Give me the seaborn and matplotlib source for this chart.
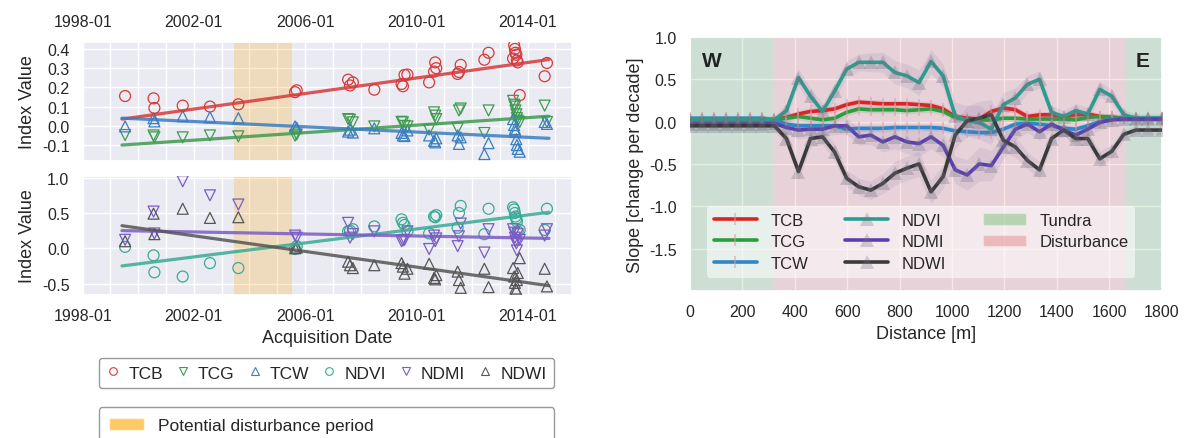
import numpy as np
import pandas as pd
import matplotlib
matplotlib.use("Agg")
import matplotlib.pyplot as plt
import matplotlib.dates as mdates
import seaborn as sns
from matplotlib.patches import Patch
from matplotlib.lines import Line2D

# ---------------- left panels: time series ----------------
acq_dates = ["1999-07-12", "2000-07-20", "2000-07-31", "2001-08-07", "2002-07-31",
             "2003-08-08", "2005-08-22", "2005-09-13", "2007-07-20", "2007-08-14",
             "2007-09-20", "2008-06-28", "2009-06-21", "2009-07-09", "2009-07-30",
             "2009-09-06", "2010-06-18", "2010-08-22", "2010-09-06", "2010-09-20",
             "2011-06-28", "2011-07-15", "2011-08-07", "2012-06-13", "2012-08-07",
             "2013-06-25", "2013-07-09", "2013-07-19", "2013-07-26", "2013-08-07",
             "2013-08-14", "2013-08-25", "2013-09-20", "2014-08-14", "2014-09-13"]

tcb = [0.155, 0.143, 0.093, 0.105, 0.100, 0.112, 0.175, 0.185, 0.240, 0.210,
       0.226, 0.188, 0.218, 0.206, 0.265, 0.267, 0.226, 0.282, 0.330, 0.300,
       0.270, 0.280, 0.317, 0.344, 0.380, 0.350, 0.420, 0.400, 0.380, 0.370,
       0.340, 0.330, 0.160, 0.258, 0.327]
tcg = [-0.048, -0.050, -0.060, -0.060, -0.050, -0.055, -0.051, -0.045, 0.035, 0.032,
       0.018, -0.003, 0.021, 0.018, 0.000, -0.003, -0.020, 0.070, 0.053, 0.035,
       -0.013, 0.080, 0.090, -0.037, 0.080, 0.130, 0.110, 0.100, 0.080, 0.060,
       0.040, 0.027, 0.020, 0.105, 0.020]
tcw = [-0.003, 0.040, 0.023, 0.050, 0.045, 0.040, -0.003, -0.010, -0.030, -0.020,
       -0.035, -0.013, -0.037, -0.050, -0.053, -0.024, -0.050, -0.078, -0.086, -0.065,
       -0.050, -0.094, -0.060, -0.147, -0.090, 0.035, 0.004, -0.017, -0.030, -0.070,
       -0.100, -0.120, -0.135, 0.020, 0.010]
ndvi = [0.02, -0.10, -0.34, -0.40, -0.21, -0.28, -0.01, 0.03, 0.24, 0.25,
        0.27, 0.31, 0.41, 0.36, 0.33, 0.24, 0.21, 0.45, 0.44, 0.47,
        0.29, 0.50, 0.60, 0.20, 0.56, 0.58, 0.55, 0.50, 0.45, 0.42,
        0.38, 0.24, 0.26, 0.26, 0.56]
ndmi = [0.12, 0.52, 0.21, 0.95, 0.75, 0.62, 0.18, 0.15, 0.36, 0.15,
        0.20, 0.24, 0.10, 0.11, 0.12, 0.24, -0.01, 0.18, 0.10, 0.14,
        0.03, 0.17, 0.35, -0.06, 0.27, 0.27, 0.22, 0.15, 0.10, 0.07,
        -0.03, 0.20, 0.12, 0.18, 0.27]
ndwi = [0.10, 0.49, 0.20, 0.56, 0.43, 0.44, 0.00, 0.01, -0.19, -0.24,
        -0.28, -0.24, -0.21, -0.26, -0.36, -0.29, -0.22, -0.42, -0.44, -0.38,
        -0.33, -0.45, -0.56, -0.29, -0.55, -0.28, -0.40, -0.49, -0.57, -0.59,
        -0.45, -0.35, -0.14, -0.29, -0.54]

trend_dates = ["1999-06-01", "2014-10-10"]
tcb_trend = [0.035, 0.345]
tcg_trend = [-0.100, 0.050]
tcw_trend = [0.040, -0.065]
ndvi_trend = [-0.25, 0.51]
ndmi_trend = [0.25, 0.14]
ndwi_trend = [0.32, -0.53]

disturbance_period = ["2003-06-10", "2005-07-12"]
date_ticks = ["1998-01", "2002-01", "2006-01", "2010-01", "2014-01"]
date_limits = ["1998-01-01", "2015-08-10"]

# ---------------- right panel: slope profile ----------------
distance = [0, 46, 92, 138, 184, 230, 276, 322, 368, 414, 460, 506, 552, 598, 644,
            690, 736, 782, 828, 874, 920, 966, 1012, 1058, 1104, 1150, 1196, 1242,
            1288, 1334, 1380, 1426, 1472, 1518, 1564, 1610, 1656, 1702, 1748, 1800]
slope_tcb = [0.01, 0.01, 0.01, 0.01, 0.01, 0.01, 0.01, 0.03, 0.05, 0.09, 0.12, 0.13,
             0.15, 0.20, 0.23, 0.22, 0.21, 0.21, 0.21, 0.20, 0.19, 0.15, 0.06, 0.04,
             0.03, 0.12, 0.16, 0.14, 0.06, 0.08, 0.08, 0.06, 0.08, 0.09, 0.06, 0.05,
             0.04, 0.03, 0.03, 0.03]
slope_tcg = [0.02, 0.02, 0.02, 0.02, 0.02, 0.02, 0.02, 0.02, 0.04, 0.06, 0.04, 0.02,
             0.04, 0.11, 0.15, 0.14, 0.14, 0.14, 0.13, 0.14, 0.15, 0.12, 0.05, 0.02,
             0.02, 0.02, 0.04, 0.04, 0.03, 0.03, 0.03, 0.03, 0.02, 0.05, 0.06, 0.05,
             0.04, 0.03, 0.03, 0.03]
slope_tcw = [0.04, 0.04, 0.04, 0.04, 0.04, 0.04, 0.04, 0.02, -0.03, -0.05, -0.05, -0.05,
             -0.05, -0.09, -0.08, -0.08, -0.08, -0.07, -0.07, -0.07, -0.07, -0.08, -0.11,
             -0.12, -0.13, -0.13, -0.09, -0.03, -0.02, -0.03, -0.05, -0.08, -0.09, -0.05,
             0.00, 0.03, 0.04, 0.04, 0.04, 0.04]
slope_ndvi = [0.03, 0.03, 0.03, 0.03, 0.03, 0.03, 0.03, 0.02, 0.13, 0.52, 0.30, 0.12,
              0.36, 0.62, 0.70, 0.70, 0.70, 0.58, 0.54, 0.46, 0.71, 0.54, 0.07, 0.01,
              -0.01, -0.09, 0.20, 0.28, 0.44, 0.50, 0.11, 0.06, 0.13, 0.09, 0.38, 0.30,
              0.08, 0.04, 0.04, 0.04]
slope_ndmi = [-0.03, -0.03, -0.03, -0.03, -0.03, -0.03, -0.03, -0.02, -0.07, -0.10,
              -0.09, -0.09, -0.05, -0.05, -0.18, -0.16, -0.24, -0.18, -0.24, -0.26,
              -0.18, -0.28, -0.57, -0.63, -0.50, -0.52, -0.30, -0.09, -0.03, -0.12,
              -0.03, -0.10, -0.16, -0.09, -0.01, 0.02, 0.03, 0.03, 0.03, 0.03]
slope_ndwi = [-0.05, -0.05, -0.05, -0.05, -0.05, -0.05, -0.05, -0.05, -0.20, -0.59,
              -0.20, -0.18, -0.36, -0.67, -0.77, -0.81, -0.73, -0.61, -0.55, -0.50,
              -0.83, -0.65, -0.16, 0.01, 0.04, 0.08, -0.22, -0.30, -0.46, -0.57,
              -0.20, -0.10, -0.20, -0.20, -0.44, -0.35, -0.15, -0.10, -0.10, -0.10]
err_tc = [0.03, 0.03, 0.03, 0.03, 0.03, 0.03, 0.03, 0.03, 0.04, 0.04, 0.04, 0.04,
          0.04, 0.04, 0.04, 0.04, 0.04, 0.04, 0.04, 0.04, 0.04, 0.04, 0.04, 0.04,
          0.04, 0.04, 0.04, 0.04, 0.04, 0.04, 0.04, 0.04, 0.04, 0.04, 0.04, 0.04,
          0.03, 0.03, 0.03, 0.03]
err_nd = [0.04, 0.04, 0.04, 0.04, 0.04, 0.04, 0.04, 0.05, 0.08, 0.10, 0.10, 0.09,
          0.10, 0.10, 0.10, 0.11, 0.12, 0.14, 0.14, 0.15, 0.14, 0.14, 0.16, 0.18,
          0.20, 0.18, 0.14, 0.12, 0.10, 0.10, 0.08, 0.07, 0.08, 0.08, 0.09, 0.08,
          0.06, 0.05, 0.05, 0.05]
tundra_west = [0, 322]
disturbance_zone = [322, 1665]
tundra_east = [1665, 1800]

# ---------------- styling ----------------
sns.set_theme(style="darkgrid")
plt.rcParams["font.family"] = ["Liberation Sans", "DejaVu Sans"]
plt.rcParams["axes.unicode_minus"] = True

left_cols = {"TCB": "#d63a3a", "TCG": "#3f9b4f", "TCW": "#3a7ebf",
             "NDVI": "#3aab94", "NDMI": "#7b5cc4", "NDWI": "#555555"}
right_cols = {"TCB": "#d62728", "TCG": "#2a9d3c", "TCW": "#2f86c8",
              "NDVI": "#2a9d8f", "NDMI": "#5b3fb0", "NDWI": "#3a3a3a"}
markers = {"TCB": "o", "TCG": "v", "TCW": "^", "NDVI": "o", "NDMI": "v", "NDWI": "^"}

fig = plt.figure(figsize=(11.88, 4.39), dpi=100)
ax1 = fig.add_axes([0.0696, 0.631, 0.412, 0.271])
ax2 = fig.add_axes([0.0696, 0.326, 0.412, 0.271])
ax3 = fig.add_axes([0.5808, 0.335, 0.397, 0.5786])

dates = pd.to_datetime(acq_dates)
tdates = pd.to_datetime(trend_dates)
dp = pd.to_datetime(disturbance_period)

top_series = {"TCB": (tcb, tcb_trend), "TCG": (tcg, tcg_trend), "TCW": (tcw, tcw_trend)}
bot_series = {"NDVI": (ndvi, ndvi_trend), "NDMI": (ndmi, ndmi_trend), "NDWI": (ndwi, ndwi_trend)}

for ax, series in ((ax1, top_series), (ax2, bot_series)):
    ax.axvspan(dp[0], dp[1], color="orange", alpha=0.22, lw=0, zorder=1)
    for name, (vals, trend) in series.items():
        c = left_cols[name]
        sns.scatterplot(x=dates, y=vals, ax=ax, marker=markers[name], s=62,
                        facecolor="none", edgecolor=c, linewidth=0.9, zorder=3)
        sns.lineplot(x=tdates, y=trend, ax=ax, color=c, lw=2.3, alpha=0.85, zorder=4)
    ax.set_xlim(pd.to_datetime(date_limits[0]), pd.to_datetime(date_limits[1]))
    ax.set_xticks(pd.to_datetime(date_ticks))
    ax.set_xticklabels(date_ticks)
    ax.xaxis.set_minor_locator(mdates.YearLocator(1))
    ax.grid(True, which="minor", axis="x", color="white", lw=1)
    ax.set_ylabel("Index Value", fontsize=13)
    ax.tick_params(labelsize=11.5)

ax1.set_ylim(-0.183, 0.436)
ax1.set_yticks([-0.1, 0.0, 0.1, 0.2, 0.3, 0.4])
ax1.tick_params(axis="x", labeltop=True, labelbottom=False)
ax1.set_xlabel("")
ax2.set_ylim(-0.66, 1.025)
ax2.set_yticks([-0.5, 0.0, 0.5, 1.0])
ax2.set_xlabel("Acquisition Date", fontsize=13)

for ax in (ax1, ax2):
    ax.yaxis.set_major_formatter(matplotlib.ticker.FormatStrFormatter("%.1f"))

h1 = [Line2D([], [], linestyle="none", marker=markers[n], markerfacecolor="none",
             markeredgecolor=left_cols[n], markersize=5.5, markeredgewidth=0.8)
      for n in ["TCB", "TCG", "TCW", "NDVI", "NDMI", "NDWI"]]
leg1 = fig.legend(h1, ["TCB", "TCG", "TCW", "NDVI", "NDMI", "NDWI"], ncol=6,
                  loc="upper left", bbox_to_anchor=(0.0758, 0.0, 0.398, 0.203),
                  mode="expand", fontsize=12.5, frameon=True, facecolor="white",
                  edgecolor="#999999", framealpha=1, handlelength=0.8,
                  handletextpad=0.45, borderpad=0.45)
h2 = [Patch(facecolor="orange", alpha=0.6), Patch(visible=False)]
leg2 = fig.legend(h2, ["Potential disturbance period", " "], ncol=1,
                  loc="upper left", bbox_to_anchor=(0.0758, 0.0, 0.398, 0.090),
                  mode="expand", fontsize=12.5, frameon=True, facecolor="white",
                  edgecolor="#999999", framealpha=1, borderpad=0.6)

# ---------------- right panel ----------------
ax3.axvspan(tundra_west[0], tundra_west[1], color="tab:green", alpha=0.15, lw=0, zorder=1)
ax3.axvspan(tundra_east[0], tundra_east[1], color="tab:green", alpha=0.15, lw=0, zorder=1)
ax3.axvspan(disturbance_zone[0], disturbance_zone[1], color="tab:red", alpha=0.12, lw=0, zorder=1)

dist = np.array(distance)
handles = {}
for name, vals, err in (("TCB", slope_tcb, err_tc), ("TCG", slope_tcg, err_tc),
                        ("TCW", slope_tcw, err_tc)):
    v = np.array(vals); e = np.array(err)
    ax3.fill_between(dist, v - e, v + e, color=right_cols[name], alpha=0.15, lw=0, zorder=2)
    sns.lineplot(x=dist, y=v, ax=ax3, color=right_cols[name], lw=2.6, zorder=4,
                 marker="|", markersize=9, markeredgewidth=1.2,
                 markeredgecolor=(0.85, 0.6, 0.65, 0.6))
    handles[name] = ax3.lines[-1]
for name, vals, err in (("NDVI", slope_ndvi, err_nd), ("NDMI", slope_ndmi, err_nd),
                        ("NDWI", slope_ndwi, err_nd)):
    v = np.array(vals); e = np.array(err)
    ax3.fill_between(dist, v - e, v + e, color="#7d6aa8", alpha=0.13, lw=0, zorder=2)
    sns.lineplot(x=dist, y=v, ax=ax3, color=right_cols[name], lw=2.6, zorder=5,
                 marker="^", markersize=10, markeredgewidth=0,
                 markerfacecolor=(0.45, 0.45, 0.5, 0.3), markeredgecolor="none")
    handles[name] = ax3.lines[-1]

ax3.set_xlim(0, 1800)
ax3.set_ylim(-2.0, 1.0)
ax3.set_xticks([0, 200, 400, 600, 800, 1000, 1200, 1400, 1600, 1800])
ax3.set_yticks([-1.5, -1.0, -0.5, 0.0, 0.5, 1.0])
ax3.yaxis.set_major_formatter(matplotlib.ticker.FormatStrFormatter("%.1f"))
ax3.tick_params(labelsize=11.5)
ax3.set_xlabel("Distance [m]", fontsize=13)
ax3.set_ylabel("Slope [change per decade]", fontsize=13)
ax3.text(0.025, 0.885, "W", transform=ax3.transAxes, fontsize=15, fontweight="bold",
         color="#222222")
ax3.text(0.975, 0.885, "E", transform=ax3.transAxes, fontsize=15, fontweight="bold",
         color="#222222", ha="right")

leg_h = [handles["TCB"], handles["TCG"], handles["TCW"],
         handles["NDVI"], handles["NDMI"], handles["NDWI"],
         Patch(facecolor="tab:green", alpha=0.3), Patch(facecolor="tab:red", alpha=0.25)]
leg_l = ["TCB", "TCG", "TCW", "NDVI", "NDMI", "NDWI", "Tundra", "Disturbance"]
ax3.legend(leg_h, leg_l, ncol=3, loc="lower center", bbox_to_anchor=(0.49, 0.02),
           fontsize=12, facecolor="white", framealpha=0.55, edgecolor="none",
           handlelength=2.6, columnspacing=2.2, labelspacing=0.4)

fig.savefig("out.png", dpi=100)
